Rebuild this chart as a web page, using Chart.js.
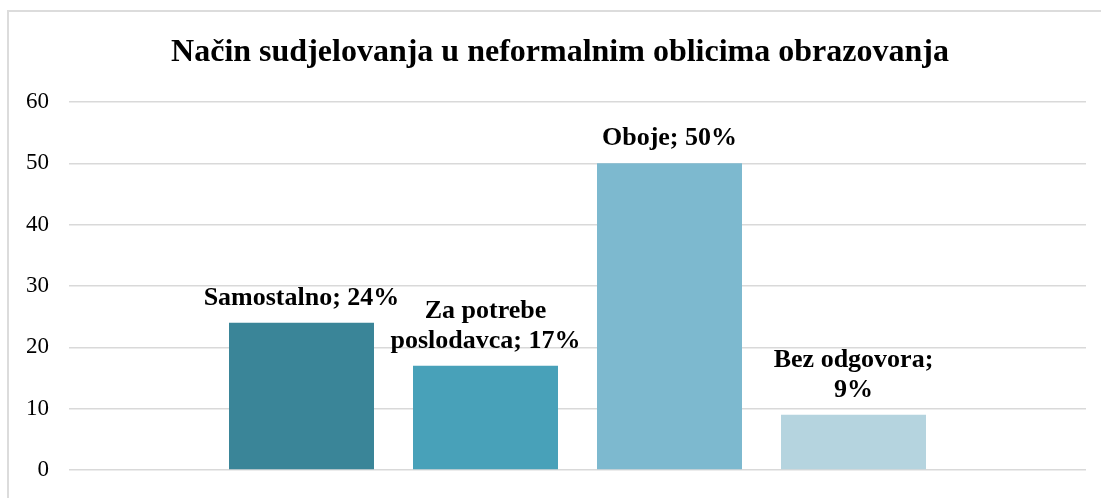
<!DOCTYPE html>
<html>
<head>
<meta charset="utf-8">
<script src="https://cdn.jsdelivr.net/npm/chart.js@4/dist/chart.umd.min.js"></script>
<style>
  html, body { margin: 0; padding: 0; width: 1101px; height: 498px; overflow: hidden; background: #ffffff; }
  #frame { position: absolute; left: 7px; top: 10px; width: 1106px; height: 520px; border: 2px solid #dcdcdc; box-sizing: border-box; pointer-events: none; }
  #wrap { position: absolute; left: 7px; top: 10px; width: 1106px; height: 488px; }
</style>
</head>
<body>
<div id="wrap"><canvas id="c"></canvas></div>
<div id="frame"></div>
<script>
const titleText = 'Način sudjelovanja u neformalnim oblicima obrazovanja';
const seriesNames = ['Samostalno', 'Za potrebe poslodavca', 'Oboje', 'Bez odgovora'];
const seriesValues = [24, 17, 50, 9];
const seriesColors = ['#3A8598', '#48A1B9', '#7DB9CF', '#B5D4DF'];
const categories = [''];
const yTicks = [0, 10, 20, 30, 40, 50, 60];

const SERIF = "'Liberation Serif', 'Times New Roman', serif";

function wrapText(ctx, text, maxWidth) {
  const words = text.split(' ');
  const lines = [];
  let cur = '';
  for (const w of words) {
    const test = cur ? cur + ' ' + w : w;
    if (cur && ctx.measureText(test).width > maxWidth) {
      lines.push(cur);
      cur = w;
    } else {
      cur = test;
    }
  }
  if (cur) lines.push(cur);
  return lines;
}

const labelPlugin = {
  id: 'barLabels',
  afterDatasetsDraw(chart) {
    const ctx = chart.ctx;
    ctx.save();
    ctx.font = 'bold 26px ' + SERIF;
    ctx.fillStyle = '#000000';
    ctx.textAlign = 'center';
    ctx.textBaseline = 'alphabetic';
    chart.data.datasets.forEach((ds, i) => {
      const meta = chart.getDatasetMeta(i);
      const bar = meta.data[0];
      const text = ds.label + '; ' + ds.data[0] + '%';
      const lines = wrapText(ctx, text, 202);
      const lh = 30;
      let y = bar.y - 18;
      for (let k = lines.length - 1; k >= 0; k--) {
        ctx.fillText(lines[k], bar.x, y);
        y -= lh;
      }
    });
    ctx.restore();
  }
};

const datasets = seriesNames.map((name, i) => ({
  label: name,
  data: [seriesValues[i]],
  backgroundColor: seriesColors[i],
  borderWidth: 0,
  yAxisID: 'y',
  categoryPercentage: 0.7237,
  barPercentage: 0.788
}));

function zeroPad(scale) {
  scale.paddingTop = 0;
  scale.paddingBottom = 0;
}

new Chart(document.getElementById('c'), {
  type: 'bar',
  data: { labels: categories, datasets },
  options: {
    responsive: true,
    maintainAspectRatio: false,
    animation: false,
    layout: { padding: { left: 0, right: 0, top: 0, bottom: 28 } },
    plugins: {
      legend: { display: false },
      tooltip: { enabled: false },
      title: {
        display: true,
        text: titleText,
        color: '#000000',
        font: { family: SERIF, size: 32, weight: 'bold', lineHeight: 1.2 },
        padding: { top: 24, bottom: 29.6 }
      }
    },
    scales: {
      x: {
        type: 'category',
        display: false,
        offset: true
      },
      y: {
        position: 'left',
        min: 0,
        max: 60,
        afterBuildTicks(scale) { scale.ticks = yTicks.map(v => ({ value: v })); },
        afterFit(scale) { scale.width = 62; zeroPad(scale); },
        border: { display: false },
        grid: { color: '#d9d9d9', lineWidth: 1.5, drawTicks: false },
        ticks: {
          color: '#000000',
          padding: 20,
          font: { family: SERIF, size: 23 }
        }
      },
      yRight: {
        position: 'right',
        min: 0,
        max: 60,
        afterFit(scale) { scale.width = 27; zeroPad(scale); },
        border: { display: false },
        grid: { display: false },
        ticks: { display: false }
      }
    }
  },
  plugins: [labelPlugin]
});
</script>
</body>
</html>
